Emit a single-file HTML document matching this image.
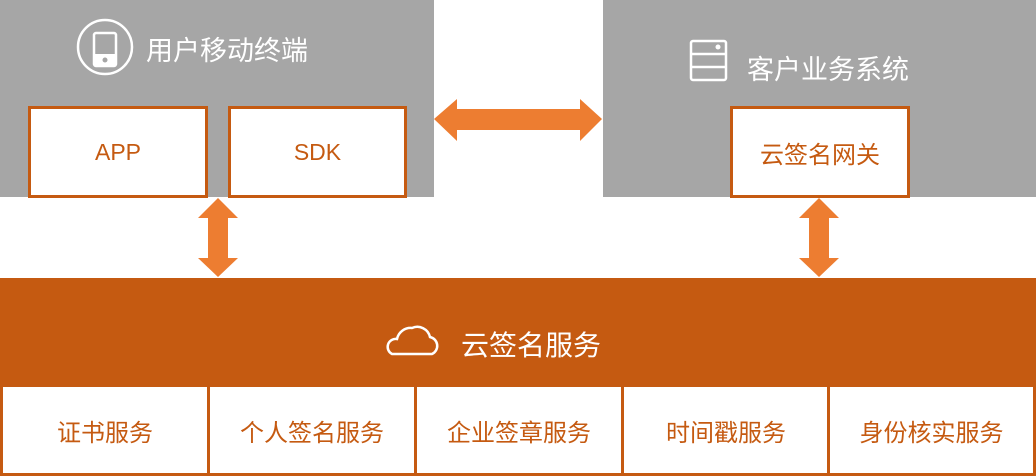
<!DOCTYPE html>
<html><head><meta charset="utf-8"><style>
html,body{margin:0;padding:0;}
body{width:1036px;height:476px;position:relative;overflow:hidden;background:#fff;font-family:"Liberation Sans","Noto Sans CJK SC",sans-serif;}
.a{position:absolute;box-sizing:border-box;}
.gray{background:#a6a6a6;}
.box{background:#fff;border:3px solid #c55a11;color:#c55a11;font-size:24px;display:flex;align-items:center;justify-content:center;}
.t{position:absolute;color:#fff;white-space:nowrap;}
</style></head><body>
<div class="a gray" style="left:0;top:0;width:434px;height:197px"></div>
<div class="a gray" style="left:603px;top:0;width:433px;height:197px"></div>
<div class="a box" style="left:28px;top:106px;width:180px;height:92px;font-size:23px">APP</div>
<div class="a box" style="left:228px;top:106px;width:179px;height:92px;font-size:23px">SDK</div>
<div class="a box" style="left:730px;top:106px;width:180px;height:92px">云签名网关</div>
<div class="a" style="left:0;top:278px;width:1036px;height:108px;background:#c55a11"></div>
<div class="a box" style="left:0;top:384px;width:210px;height:92px">证书服务</div>
<div class="a box" style="left:207px;top:384px;width:210px;height:92px">个人签名服务</div>
<div class="a box" style="left:414px;top:384px;width:210px;height:92px">企业签章服务</div>
<div class="a box" style="left:621px;top:384px;width:210px;height:92px">时间戳服务</div>
<div class="a box" style="left:827px;top:384px;width:209px;height:92px">身份核实服务</div>
<svg class="a" style="left:0;top:0" width="1036" height="476">
<g fill="#ed7d31">
<polygon points="434,119 457,99 457,109 580,109 580,99 602,119 580,141 580,130 457,130 457,141"/>
<polygon points="218,198 238,218 228,218 228,258 238,258 218,277 198,258 208,258 208,218 198,218"/>
<polygon points="819,198 839,218 829,218 829,258 839,258 819,277 799,258 809,258 809,218 799,218"/>
</g>
<g fill="none" stroke="#fff" stroke-width="2.5">
<ellipse cx="105" cy="47" rx="27" ry="27"/>
<rect x="94" y="33" width="22" height="33" rx="2"/>
<rect x="691" y="41" width="35" height="39" rx="2"/>
<line x1="691" y1="54" x2="726" y2="54"/><line x1="691" y1="67" x2="726" y2="67"/>
<path d="M392,354 H432 A9,9 0 0 0 430,337 A13,13 0 0 0 412,328 A14,14 0 0 0 397,339 A8,8 0 0 0 392,354 Z"/>
</g>
<rect x="94" y="54" width="22" height="12" fill="#fff"/>
<circle cx="105" cy="60" r="2.5" fill="#a6a6a6"/>
<circle cx="718" cy="47" r="2.5" fill="#fff"/>
</svg>
<div class="t" style="left:146px;top:29px;font-size:27px">用户移动终端</div>
<div class="t" style="left:747px;top:48px;font-size:27px">客户业务系统</div>
<div class="t" style="left:461px;top:324px;font-size:28px">云签名服务</div>
</body></html>
